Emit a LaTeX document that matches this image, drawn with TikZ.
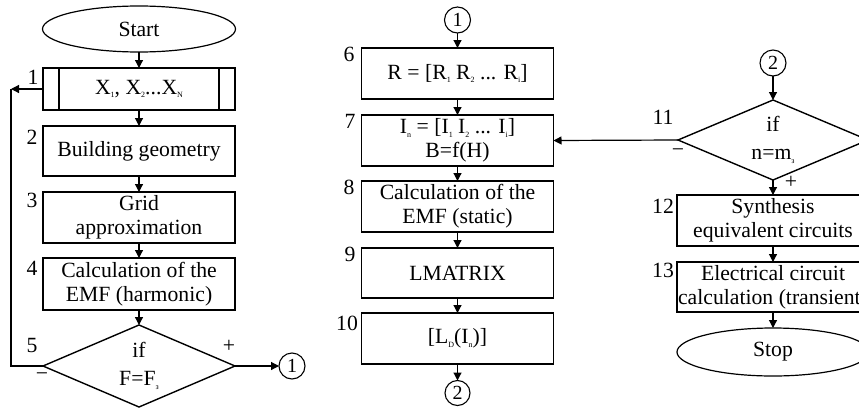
\documentclass[tikz,border=0pt]{standalone}
\usepackage{fontspec}
\setmainfont{Liberation Serif}
\usetikzlibrary{shapes.geometric,arrows.meta}
\newcommand\sbx[1]{\raisebox{-0.35ex}{\fontsize{8}{8}\selectfont #1}}
\begin{document}
\begin{tikzpicture}[x=1pt,y=-1pt,
  font=\fontsize{21.7}{24}\selectfont,
  every node/.style={inner sep=0pt,outer sep=0pt},
  box/.style={draw,line width=1.4pt,rectangle,minimum width=192pt,align=center},
  term/.style={draw,line width=1.2pt,ellipse,minimum width=193pt},
  dec/.style={draw,line width=1.4pt,diamond,aspect=2.3,minimum width=192pt,minimum height=82pt,align=center},
  conn/.style={draw,line width=1.1pt,circle,minimum size=26pt,font=\fontsize{20}{20}\selectfont},
  arr/.style={line width=1.2pt,-{Triangle[length=8pt,width=8pt]}},
  ln/.style={line width=1.2pt},
  lbl/.style={font=\fontsize{21.7}{21.7}\selectfont}]
\useasboundingbox (0,0) rectangle (859,407);
\clip (0,0) rectangle (859,407);
% left column
\node[term,minimum height=46pt] (start) at (139,29) {Start};
\node[box,minimum height=42pt] (b1) at (139,89) {X\sbx{1}, X\sbx{2}...X\sbx{N}};
\draw[ln] ([xshift=16pt]b1.north west) -- ([xshift=16pt]b1.south west);
\draw[ln] ([xshift=-16pt]b1.north east) -- ([xshift=-16pt]b1.south east);
\node[box,minimum height=50pt] (b2) at (139,151) {Building geometry};
\node[box,minimum height=51pt] (b3) at (139,217.5) {Grid\\approximation};
\node[box,minimum height=52pt] (b4) at (139,284) {Calculation of the\\EMF (harmonic)};
\node[dec] (d5) at (139,366) {if\\[4pt]F=F\sbx{з}};
\node[conn] (c1a) at (292,366) {1};
\coordinate (fb) at (11,89);
\draw[arr] (start) -- (b1);
\draw[arr] (b1) -- (b2);
\draw[arr] (b2) -- (b3);
\draw[arr] (b3) -- (b4);
\draw[arr] (b4) -- (d5);
\draw[arr] (d5.east) -- (c1a);
\draw[arr] (b1.west) -- (fb);
\draw[ln] (d5.west) -| (fb);
\node[lbl] (l1) at (33,77) {1};
\node[lbl] (l2) at (32,137) {2};
\node[lbl] (l3) at (32,200) {3};
\node[lbl] (l4) at (32,268) {4};
\node[lbl] (l5) at (32,345) {5};
\node[lbl] (p5) at (229,346) {+};
\node[lbl] (m5) at (42,377) {\textminus};
% middle column
\node[conn] (c1b) at (457.5,20) {1};
\node[box,minimum height=51pt] (b6) at (457.5,73.5) {R = [R\sbx{1} R\sbx{2} ... R\sbx{i}]};
\node[box,minimum height=51pt] (b7) at (457.5,140.5) {I\sbx{n} = [I\sbx{1} I\sbx{2} ... I\sbx{i}]\\B=f(H)};
\node[box,minimum height=51pt] (b8) at (457.5,206.5) {Calculation of the\\EMF (static)};
\node[box,minimum height=50pt] (b9) at (457.5,273) {LMATRIX};
\node[box,minimum height=51pt] (b10) at (457.5,338.5) {[L\sbx{D}(I\sbx{n})]};
\node[conn,minimum size=25pt] (c2a) at (457.5,393) {2};
\draw[arr] (c1b) -- (b6);
\draw[arr] (b6) -- (b7);
\draw[arr] (b7) -- (b8);
\draw[arr] (b8) -- (b9);
\draw[arr] (b9) -- (b10);
\draw[arr] (b10) -- (c2a);
\node[lbl] (l6) at (349,54) {6};
\node[lbl] (l7) at (350,121) {7};
\node[lbl] (l8) at (349,187) {8};
\node[lbl] (l9) at (350,254) {9};
\node[lbl] (l10) at (347,323) {10};
% right column
\node[conn] (c2b) at (773,63) {2};
\node[dec,minimum width=190pt,minimum height=80pt] (d11) at (773,140) {if\\[4pt]n=m\sbx{з}};
\node[box,minimum height=51pt] (b12) at (773,220.5) {Synthesis\\equivalent circuits};
\node[box,minimum height=50pt] (b13) at (773,287) {Electrical circuit\\calculation (transient)};
\node[term,minimum width=192pt,minimum height=48pt] (stop) at (773,352) {Stop};
\draw[arr] (c2b) -- (d11);
\draw[arr] (d11) -- (b12);
\draw[arr] (b12) -- (b13);
\draw[arr] (b13) -- (stop);
\draw[arr] (d11.west) -- (b7.east);
\node[lbl] (l11) at (663,117) {11};
\node[lbl] (l12) at (663,206) {12};
\node[lbl] (l13) at (663,270) {13};
\node[lbl] (m11) at (678,153) {\textminus};
\node[lbl] (p11) at (791,182) {+};
\end{tikzpicture}
\end{document}
